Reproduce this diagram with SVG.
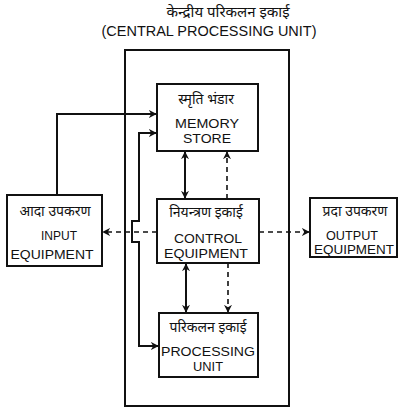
<svg xmlns="http://www.w3.org/2000/svg" width="402" height="409" viewBox="0 0 402 409">
<defs>
<marker id="ah" viewBox="0 0 10 10" refX="9" refY="5" markerWidth="8" markerHeight="8" markerUnits="userSpaceOnUse" orient="auto-start-reverse">
<path d="M0,0 L10,5 L0,10 L3,5 z" fill="#111"/>
</marker>
<style>
.box{fill:#fff;stroke:#111;stroke-width:2}
.ln{fill:none;stroke:#111;stroke-width:2}
.dl{fill:none;stroke:#111;stroke-width:1.6;stroke-dasharray:5 4}
.en{font-family:"Liberation Sans","DejaVu Sans",sans-serif;font-size:13px;fill:#111;text-anchor:middle}
.hi{font-family:"Noto Sans","Noto Sans Devanagari","Lohit Devanagari","DejaVu Sans",sans-serif;font-size:14px;font-style:italic;fill:#111;text-anchor:middle}
</style>
</defs>
<rect width="402" height="409" fill="#fff"/>
<g id="cpu">
<rect class="box" x="125" y="50" width="164" height="356"/>
<text class="hi" x="228" y="17" style="font-size:15px">केन्द्रीय परिकलन इकाई</text>
<text class="en" x="209" y="36" textLength="215" lengthAdjust="spacingAndGlyphs" style="font-size:15px">(CENTRAL PROCESSING UNIT)</text>
</g>
<g id="connectors">
<polyline class="ln" points="57,195 57,114 156,114" marker-end="url(#ah)"/>
<polyline class="ln" points="156,133 139,133 139,221 132,221 132,242 139,242 139,346 158,346" marker-start="url(#ah)" marker-end="url(#ah)"/>
<line class="ln" x1="185" y1="152" x2="185" y2="198" marker-start="url(#ah)" marker-end="url(#ah)"/>
<line class="dl" x1="227" y1="199" x2="227" y2="152" marker-end="url(#ah)"/>
<line class="ln" x1="186" y1="264" x2="186" y2="312" marker-start="url(#ah)" marker-end="url(#ah)"/>
<line class="dl" x1="228" y1="263" x2="228" y2="312" marker-end="url(#ah)"/>
<line class="dl" x1="157" y1="232" x2="103" y2="232" marker-end="url(#ah)"/>
<line class="dl" x1="259" y1="232" x2="309" y2="232" marker-end="url(#ah)"/>
</g>
<g id="memory">
<rect class="box" x="157" y="84" width="101" height="67"/>
<text class="hi" x="206" y="104">स्मृति भंडार</text>
<text class="en" x="207" y="128" textLength="64" lengthAdjust="spacingAndGlyphs">MEMORY</text>
<text class="en" x="207" y="143" textLength="48" lengthAdjust="spacingAndGlyphs">STORE</text>
</g>
<g id="control">
<rect class="box" x="157" y="199" width="102" height="64"/>
<text class="hi" x="206" y="217">नियन्त्रण इकाई</text>
<text class="en" x="208" y="243" textLength="68" lengthAdjust="spacingAndGlyphs">CONTROL</text>
<text class="en" x="206" y="258" textLength="84" lengthAdjust="spacingAndGlyphs">EQUIPMENT</text>
</g>
<g id="processing">
<rect class="box" x="159" y="313" width="99" height="64"/>
<text class="hi" x="208" y="332">परिकलन इकाई</text>
<text class="en" x="208" y="356" textLength="94" lengthAdjust="spacingAndGlyphs">PROCESSING</text>
<text class="en" x="208" y="371" textLength="30" lengthAdjust="spacingAndGlyphs">UNIT</text>
</g>
<g id="input">
<rect class="box" x="7" y="195" width="95" height="71"/>
<text class="hi" x="55" y="216">आदा उपकरण</text>
<text class="en" x="59" y="240" textLength="36" lengthAdjust="spacingAndGlyphs">INPUT</text>
<text class="en" x="52" y="259" textLength="83" lengthAdjust="spacingAndGlyphs">EQUIPMENT</text>
</g>
<g id="output">
<rect class="box" x="310" y="198" width="87" height="59"/>
<text class="hi" x="355" y="216">प्रदा उपकरण</text>
<text class="en" x="352" y="240" textLength="52" lengthAdjust="spacingAndGlyphs">OUTPUT</text>
<text class="en" x="354" y="254" textLength="80" lengthAdjust="spacingAndGlyphs">EQUIPMENT</text>
</g>
</svg>
